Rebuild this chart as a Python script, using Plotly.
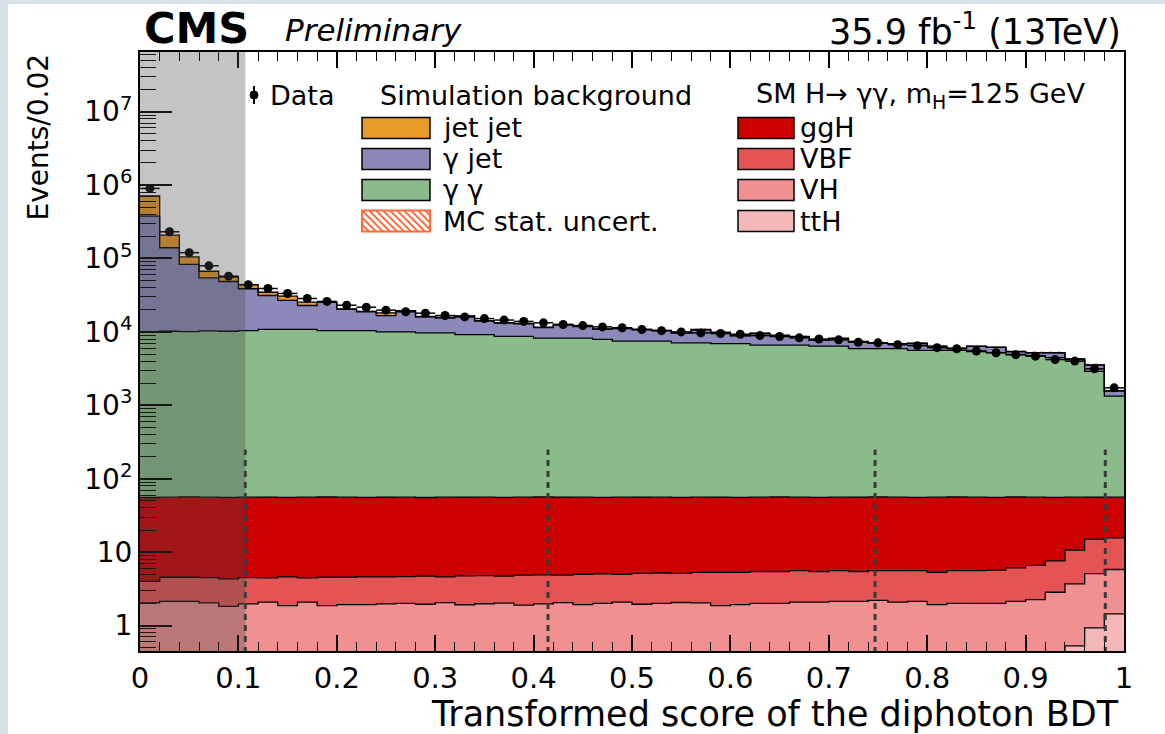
import numpy as np
import plotly.graph_objects as go

# ---------------- data (50 bins of width 0.02) ----------------
bin_edges = [round(0.02 * i, 2) for i in range(51)]
bin_centers = [round(0.01 + 0.02 * i, 3) for i in range(50)]

data = [9.0e5, 2.31e5, 1.2e5, 7.95e4, 5.74e4, 4.4e4, 3.9e4, 3.34e4, 2.85e4, 2.6e4,
        2.31e4, 2.17e4, 1.98e4, 1.88e4, 1.8e4, 1.67e4, 1.6e4, 1.52e4, 1.45e4, 1.39e4,
        1.33e4, 1.26e4, 1.22e4, 1.17e4, 1.14e4, 1.08e4, 1.04e4, 1.0e4, 9.7e3, 9.5e3,
        9.3e3, 8.9e3, 8.65e3, 8.3e3, 8.0e3, 7.8e3, 7.24e3, 7.1e3, 6.7e3, 6.5e3,
        6.1e3, 5.9e3, 5.5e3, 5.2e3, 4.9e3, 4.67e3, 4.2e3, 4.0e3, 3.14e3, 1.73e3]

jet_jet = [3.33e5, 6.8e4, 2.2e4, 1.24e4, 7.4e3, 5.3e3, 3.4e3, 3.9e3, 2.5e3, 150,
           200, 250, 1.5e3, 150, 200, 180, 120, 200, 200, 250,
           200, 150, 150, 100, 150, 100, 100, 100, 200, 100,
           100, 100, 100, 100, 50, 100, 50, 50, 50, 50,
           40, 30, 50, 50, 30, 30, 30, 20, 30, 20]

gamma_jet = [3.67e5, 1.298e5, 7.29e4, 4.43e4, 3.84e4, 2.83e4, 2.05e4, 1.6e4, 1.21e4, 1.49e4,
             9.9e3, 8.35e3, 6.7e3, 9.35e3, 6.3e3, 5.82e3, 7.18e3, 4.8e3, 4.5e3, 4.15e3,
             3.2e3, 4.25e3, 3.65e3, 3.0e3, 3.55e3, 3.2e3, 2.9e3, 2.5e3, 3.5e3, 2.9e3,
             1.9e3, 2.9e3, 2.3e3, 2.0e3, 1.25e3, 1.7e3, 1.45e3, 1.05e3, 950, 1.35e3,
             760, 370, 950, 950, 470, 420, 720, 60, 620, 230]

gamma_gamma = [9950, 10150, 10050, 10250, 10150, 10350, 10750, 10750, 10750, 10350,
               10350, 10350, 9950, 9950, 9650, 9650, 9150, 9150, 8650, 8650,
               8150, 8150, 8150, 7850, 7450, 7450, 7450, 7050, 7050, 6850,
               6850, 6550, 6550, 6550, 6350, 6350, 5850, 5850, 5850, 5550,
               5550, 5550, 5350, 5150, 4850, 4700, 4400, 4150, 2850, 1280]

ggH = [51.5, 51.45, 51.95, 51.5, 51.47, 51.5, 51.85, 51.2, 51.55, 51.95,
       51.45, 51.2, 51.6, 51.35, 50.8, 51.4, 51.55, 51.2, 51.1, 51.15,
       51.6, 51.35, 51.0, 50.75, 51.0, 51.15, 50.8, 50.55, 50.7, 50.9,
       50.5, 50.55, 51.05, 50.4, 50.35, 50.4, 50.75, 50.9, 50.4, 50.2,
       50.7, 50.9, 50.4, 50.1, 50.4, 49.4, 48.2, 45.3, 41.3, 40.4]

VBF = [1.96, 2.41, 2.41, 2.46, 2.5, 2.53, 2.37, 2.73, 2.37, 2.68,
       2.62, 2.67, 2.63, 2.65, 2.75, 2.55, 2.83, 2.82, 2.68, 2.95,
       2.93, 2.8, 3.07, 3.05, 2.92, 3.2, 3.2, 3.09, 3.26, 3.43,
       3.37, 3.45, 3.45, 3.52, 3.37, 3.46, 3.31, 3.4, 3.52, 3.47,
       3.37, 3.6, 3.6, 3.7, 3.96, 4.34, 4.76, 7.0, 9.9, 9.8]

VH = [2.0, 2.1, 2.1, 1.99, 1.78, 1.92, 2.03, 1.82, 2.03, 1.81,
      1.87, 1.87, 1.91, 1.94, 1.89, 1.98, 1.85, 1.91, 1.95, 1.83,
      1.89, 1.97, 1.85, 1.92, 2.0, 1.86, 1.91, 1.97, 1.95, 1.77,
      1.83, 1.9, 1.9, 1.97, 1.97, 2.03, 2.02, 2.08, 1.96, 2.0,
      1.8, 1.86, 1.86, 1.85, 1.98, 2.08, 2.62, 3.17, 4.17, 4.36]

ttH = [0.04, 0.04, 0.04, 0.05, 0.05, 0.05, 0.05, 0.05, 0.05, 0.06,
       0.06, 0.06, 0.06, 0.06, 0.06, 0.07, 0.07, 0.07, 0.07, 0.07,
       0.08, 0.08, 0.08, 0.08, 0.08, 0.09, 0.09, 0.09, 0.09, 0.1,
       0.1, 0.1, 0.1, 0.11, 0.11, 0.11, 0.12, 0.12, 0.12, 0.13,
       0.13, 0.14, 0.14, 0.15, 0.16, 0.18, 0.22, 0.53, 0.93, 1.44]

mc_rel_unc = [0.015, 0.02, 0.02, 0.02, 0.025, 0.025, 0.025, 0.025, 0.025, 0.03,
              0.03, 0.03, 0.03, 0.03, 0.03, 0.03, 0.03, 0.03, 0.03, 0.03,
              0.03, 0.03, 0.03, 0.03, 0.03, 0.03, 0.03, 0.03, 0.03, 0.03,
              0.035, 0.035, 0.035, 0.035, 0.035, 0.035, 0.035, 0.035, 0.035, 0.035,
              0.035, 0.035, 0.035, 0.035, 0.035, 0.04, 0.04, 0.045, 0.05, 0.06]

category_boundaries = [0.107, 0.4146, 0.747, 0.981]
boundary_top = 250

# ---------------- styles ----------------
FONT = "DejaVu Sans"
colors = {
    "ttH": "#F5B8B8", "VH": "#F09090", "VBF": "#E55454", "ggH": "#CC0000",
    "gg": "#8ABB8A", "gj": "#8A89BA", "jj": "#E99B28",
}
HATCH = "#FF6A3D"

stack_order = [("ttH", ttH), ("VH", VH), ("VBF", VBF), ("ggH", ggH),
               ("gg", gamma_gamma), ("gj", gamma_jet), ("jj", jet_jet)]

fig = go.Figure()

# baseline for the fills (below visible range)
fig.add_trace(go.Scatter(x=bin_edges, y=[1e-3] * 51, mode="lines",
                         line=dict(width=0, shape="hv"), showlegend=False,
                         hoverinfo="skip"))
cum = np.zeros(50)
for key, vals in stack_order:
    cum = cum + np.array(vals, dtype=float)
    yy = list(cum) + [cum[-1]]
    fig.add_trace(go.Scatter(x=bin_edges, y=yy, mode="lines",
                             line=dict(color="black", width=1.3, shape="hv"),
                             fill="tonexty", fillcolor=colors[key],
                             showlegend=False, hoverinfo="skip"))
total = cum

# MC stat uncertainty band (hatched)
rel = np.array(mc_rel_unc)
fig.add_trace(go.Bar(x=bin_centers, base=total * (1 - rel), y=total * 2 * rel,
                     width=0.02,
                     marker=dict(color="rgba(0,0,0,0)", line=dict(width=0),
                                 pattern=dict(shape="\\", fgcolor=HATCH,
                                              bgcolor="rgba(0,0,0,0)", size=6,
                                              solidity=0.35)),
                     showlegend=False, hoverinfo="skip"))

# category boundaries (dashed)
bx, by = [], []
for b in category_boundaries:
    bx += [b, b, None]
    by += [0.3, boundary_top, None]
fig.add_trace(go.Scatter(x=bx, y=by, mode="lines",
                         line=dict(color="#3a3a3a", width=3, dash="6px,5px"),
                         showlegend=False, hoverinfo="skip"))

# data
fig.add_trace(go.Scatter(x=bin_centers, y=data, mode="markers",
                         marker=dict(color="black", size=9),
                         error_x=dict(type="constant", value=0.01, color="black",
                                      thickness=1.5, width=0),
                         error_y=dict(type="data", array=list(np.sqrt(data)),
                                      color="black", thickness=1.5, width=0),
                         showlegend=False, hoverinfo="skip"))

# ---------------- layout helpers ----------------
L, T, W, H = 140, 52, 984, 599


def X(px):
    return (px - L) / W


def Y(py):
    return 1 - (py - T) / H


shapes = []
annotations = []

# screenshot frame strips
shapes.append(dict(type="rect", xref="paper", yref="paper", x0=X(0), x1=X(8),
                   y0=Y(734), y1=Y(0), fillcolor="#D8E0E8", line=dict(width=0),
                   layer="below"))
shapes.append(dict(type="rect", xref="paper", yref="paper", x0=X(0), x1=X(1165),
                   y0=Y(4), y1=Y(0), fillcolor="#D8E0E8", line=dict(width=0),
                   layer="below"))

# shaded region (x < first boundary)
shapes.append(dict(type="rect", xref="x", yref="paper", x0=0, x1=category_boundaries[0],
                   y0=0, y1=1, fillcolor="rgba(70,70,70,0.32)", line=dict(width=0),
                   layer="above"))

# header texts
annotations.append(dict(text="<b>CMS</b>", x=X(142), y=Y(28), xref="paper", yref="paper",
                        xanchor="left", yanchor="middle", showarrow=False,
                        font=dict(family=FONT, size=43, color="black")))
annotations.append(dict(text="<i>Preliminary</i>", x=X(283), y=Y(30), xref="paper",
                        yref="paper", xanchor="left", yanchor="middle", showarrow=False,
                        font=dict(family=FONT, size=31, color="black")))
annotations.append(dict(text="35.9 fb<sup>-1</sup> (13TeV)", x=X(1123), y=Y(29),
                        xref="paper", yref="paper", xanchor="right", yanchor="middle",
                        showarrow=False, font=dict(family=FONT, size=35, color="black")))

# axis titles
annotations.append(dict(text="Transformed score of the diphoton BDT", x=X(1121), y=Y(714),
                        xref="paper", yref="paper", xanchor="right", yanchor="middle",
                        showarrow=False, font=dict(family=FONT, size=35, color="black")))
annotations.append(dict(text="Events/0.02", x=X(38), y=Y(52), xref="paper", yref="paper",
                        xanchor="center", yanchor="top", textangle=-90, showarrow=False,
                        font=dict(family=FONT, size=28, color="black")))

# legend header
LEG = 27
annotations.append(dict(text="Data", x=X(302), y=Y(95), xref="paper", yref="paper",
                        xanchor="center", yanchor="middle", showarrow=False,
                        font=dict(family=FONT, size=LEG, color="black")))
annotations.append(dict(text="Simulation background", x=X(536), y=Y(95), xref="paper",
                        yref="paper", xanchor="center", yanchor="middle", showarrow=False,
                        font=dict(family=FONT, size=LEG, color="black")))
annotations.append(dict(text="SM H\u2192 \u03b3\u03b3, m<sub>H</sub>=125 GeV", x=X(920), y=Y(95),
                        xref="paper", yref="paper", xanchor="center", yanchor="middle",
                        showarrow=False, font=dict(family=FONT, size=LEG, color="black")))
# data legend marker
shapes.append(dict(type="line", xref="paper", yref="paper", x0=X(254), x1=X(254),
                   y0=Y(104), y1=Y(86), line=dict(color="black", width=2)))
shapes.append(dict(type="circle", xref="paper", yref="paper", x0=X(250), x1=X(258),
                   y0=Y(99), y1=Y(91), fillcolor="black", line=dict(color="black", width=1)))

rows = [128, 159, 190, 221]
left_items = [("jet jet", colors["jj"]), ("\u03b3 jet", colors["gj"]),
              ("\u03b3 \u03b3", colors["gg"]), ("MC stat. uncert.", None)]
right_items = [("ggH", colors["ggH"]), ("VBF", colors["VBF"]),
               ("VH", colors["VH"]), ("ttH", colors["ttH"])]

for (label, col), ry in zip(left_items, rows):
    x0p, x1p, y0p, y1p = 362, 430, ry - 10.5, ry + 10.5
    if col is None:
        shapes.append(dict(type="rect", xref="paper", yref="paper", x0=X(x0p), x1=X(x1p),
                           y0=Y(y1p), y1=Y(y0p), fillcolor="white",
                           line=dict(color=HATCH, width=2)))
        hgt = y1p - y0p
        k = x0p - hgt
        while k < x1p:
            sx0, sy0 = k, y0p
            sx1, sy1 = k + hgt, y1p
            if sx0 < x0p:
                sy0 = y0p + (x0p - sx0)
                sx0 = x0p
            if sx1 > x1p:
                sy1 = y1p - (sx1 - x1p)
                sx1 = x1p
            shapes.append(dict(type="line", xref="paper", yref="paper", x0=X(sx0),
                               y0=Y(sy0), x1=X(sx1), y1=Y(sy1),
                               line=dict(color=HATCH, width=1.8)))
            k += 7
    else:
        shapes.append(dict(type="rect", xref="paper", yref="paper", x0=X(x0p), x1=X(x1p),
                           y0=Y(y1p), y1=Y(y0p), fillcolor=col,
                           line=dict(color="black", width=1.5)))
    annotations.append(dict(text=label, x=X(441), y=Y(ry), xref="paper", yref="paper",
                            xanchor="left", yanchor="middle", showarrow=False,
                            font=dict(family=FONT, size=LEG, color="black")))

for (label, col), ry in zip(right_items, rows):
    shapes.append(dict(type="rect", xref="paper", yref="paper", x0=X(738), x1=X(794),
                       y0=Y(ry + 10.5), y1=Y(ry - 10.5), fillcolor=col,
                       line=dict(color="black", width=1.5)))
    annotations.append(dict(text=label, x=X(798), y=Y(ry), xref="paper", yref="paper",
                            xanchor="left", yanchor="middle", showarrow=False,
                            font=dict(family=FONT, size=LEG, color="black")))

# ---------------- axes ----------------
y_major = [1, 10, 100, 1e3, 1e4, 1e5, 1e6, 1e7]
y_major_text = ["1", "10", "10<sup>2</sup>", "10<sup>3</sup>", "10<sup>4</sup>",
                "10<sup>5</sup>", "10<sup>6</sup>", "10<sup>7</sup>"]
y_minor = [m * 10.0 ** e for e in range(-1, 8) for m in range(2, 10)]

x_major = [round(0.1 * i, 1) for i in range(11)]
x_major_text = ["0", "0.1", "0.2", "0.3", "0.4", "0.5", "0.6", "0.7", "0.8", "0.9", "1"]

fig.update_layout(
    width=1165, height=734,
    margin=dict(l=L, r=1165 - L - W, t=T, b=734 - T - H),
    paper_bgcolor="white", plot_bgcolor="white",
    barmode="overlay", bargap=0,
    showlegend=False,
    shapes=shapes, annotations=annotations,
    font=dict(family=FONT, color="black"),
    xaxis=dict(range=[0, 1], tickmode="array", tickvals=x_major, ticktext=x_major_text,
               ticks="inside", ticklen=16, tickwidth=1.5, tickcolor="black",
               minor=dict(tickmode="linear", tick0=0, dtick=0.02, ticks="inside",
                          ticklen=9, tickwidth=1.2, tickcolor="black", showgrid=False),
               showline=True, linecolor="black", linewidth=2, mirror="ticks",
               showgrid=False, zeroline=False,
               tickfont=dict(family=FONT, size=29, color="black")),
    yaxis=dict(type="log", range=[np.log10(0.45), np.log10(6.5e7)],
               tickmode="array", tickvals=y_major, ticktext=y_major_text,
               ticks="inside", ticklen=32, tickwidth=1.5, tickcolor="black",
               minor=dict(tickmode="array", tickvals=y_minor, ticks="inside",
                          ticklen=16, tickwidth=1.2, tickcolor="black", showgrid=False),
               showline=True, linecolor="black", linewidth=2, mirror=True,
               showgrid=False, zeroline=False,
               tickfont=dict(family=FONT, size=28, color="black")),
)

fig.write_html("out.html")
